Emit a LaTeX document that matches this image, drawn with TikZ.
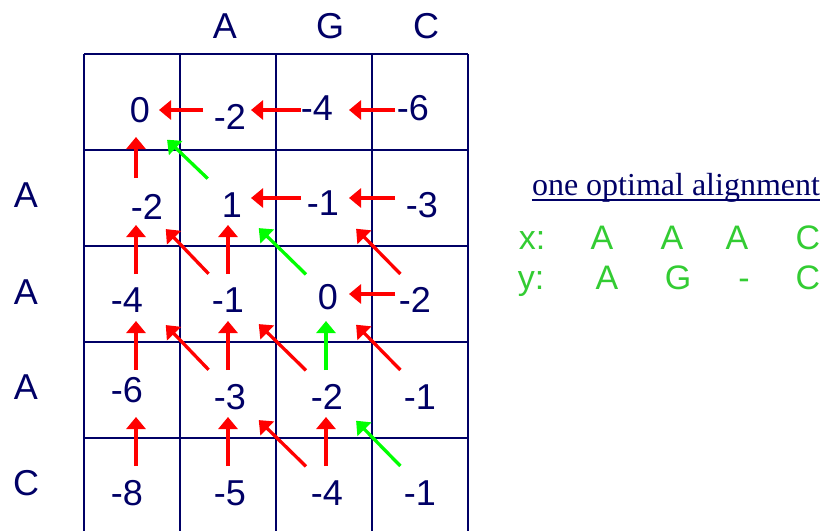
\documentclass[tikz,border=0pt]{standalone}
\usepackage{fontspec}
\setmainfont{Liberation Serif}
\setsansfont{Liberation Sans}
\usetikzlibrary{arrows.meta}
\definecolor{gridNavy}{HTML}{000066}
\definecolor{traceRed}{HTML}{FF0000}
\definecolor{traceGreen}{HTML}{00FF00}
\definecolor{alignGreen}{HTML}{33CC33}

\begin{document}
\begin{tikzpicture}[x=1pt, y=-1pt,
    lbl/.style={font=\sffamily\fontsize{36}{40}\selectfont, text=gridNavy, inner sep=0pt},
    score/.style={font=\sffamily\fontsize{36}{40}\selectfont, text=gridNavy, inner sep=0pt},
    aln/.style={font=\sffamily\fontsize{34}{38}\selectfont, text=alignGreen, inner sep=0pt, anchor=base},
    tarr/.style={line width=3.3pt, -{Triangle[length=12pt,width=19pt]}},
    hor/.style={tarr, shorten <=25pt, shorten >=23pt},
    ver/.style={tarr, shorten <=20pt, shorten >=27pt},
    dia/.style={tarr, shorten <=28pt, shorten >=43pt}
  ]
  \useasboundingbox (0,0) rectangle (828,531);

  \foreach \gx in {84,180,276,372,468}
    \draw[gridNavy, line width=1.2pt] (\gx,54) -- (\gx,531);
  \foreach \gy in {54,150,246,342,438}
    \draw[gridNavy, line width=1.2pt] (84,\gy) -- (468,\gy);

  \foreach \px [count=\j from 0] in {136,228,326,420}
    \foreach \py [count=\i from 0] in {110,198,294,390,486}
      \coordinate (p\i\j) at (\px,\py);

  \node[lbl] (topA) at (225,26) {A};
  \node[lbl] (topG) at (330,26) {G};
  \node[lbl] (topC) at (426,26) {C};
  \node[lbl] (sideA1) at (26,195) {A};
  \node[lbl] (sideA2) at (26,292) {A};
  \node[lbl] (sideA3) at (26,387) {A};
  \node[lbl] (sideC) at (26,483) {C};

  \node[score] (n00) at (140,110) {0};
  \node[score] (n01) at (230,117) {-2};
  \node[score] (n02) at (317,108) {-4};
  \node[score] (n03) at (413,108) {-6};
  \node[score] (n10) at (147,207) {-2};
  \node[score] (n11) at (232,205) {1};
  \node[score] (n12) at (323,203) {-1};
  \node[score] (n13) at (422,205) {-3};
  \node[score] (n20) at (127,300) {-4};
  \node[score] (n21) at (228,300) {-1};
  \node[score] (n22) at (328,297) {0};
  \node[score] (n23) at (415,300) {-2};
  \node[score] (n30) at (127,390) {-6};
  \node[score] (n31) at (230,397) {-3};
  \node[score] (n32) at (327,397) {-2};
  \node[score] (n33) at (420,397) {-1};
  \node[score] (n40) at (127,493) {-8};
  \node[score] (n41) at (230,493) {-5};
  \node[score] (n42) at (327,493) {-4};
  \node[score] (n43) at (420,493) {-1};

  \draw[hor, traceRed] (p01) -- (p00);
  \draw[hor, traceRed] (p02) -- (p01);
  \draw[hor, traceRed] (p03) -- (p02);
  \draw[hor, traceRed] (p12) -- (p11);
  \draw[hor, traceRed] (p13) -- (p12);
  \draw[hor, traceRed] (p23) -- (p22);

  \draw[ver, traceRed] (p10) -- (p00);
  \draw[ver, traceRed] (p20) -- (p10);
  \draw[ver, traceRed] (p30) -- (p20);
  \draw[ver, traceRed] (p40) -- (p30);
  \draw[ver, traceRed] (p21) -- (p11);
  \draw[ver, traceRed] (p31) -- (p21);
  \draw[ver, traceRed] (p41) -- (p31);
  \draw[ver, traceGreen] (p32) -- (p22);
  \draw[ver, traceRed] (p42) -- (p32);

  \draw[dia, traceGreen] (p11) -- (p00);
  \draw[dia, traceRed] (p21) -- (p10);
  \draw[dia, traceGreen] (p22) -- (p11);
  \draw[dia, traceRed] (p23) -- (p12);
  \draw[dia, traceRed] (p31) -- (p20);
  \draw[dia, traceRed] (p32) -- (p21);
  \draw[dia, traceRed] (p33) -- (p22);
  \draw[dia, traceRed] (p42) -- (p31);
  \draw[dia, traceGreen] (p43) -- (p32);

  \node[font=\rmfamily\fontsize{32}{36}\selectfont, text=gridNavy, inner sep=0pt, anchor=base] (title) at (676,195) {one optimal alignment};
  \draw[gridNavy, line width=1.5pt] ([yshift=-5pt]title.base west) -- ([yshift=-5pt]title.base east);

  \node[aln] (xlab) at (532,249) {x:};
  \node[aln] (x1) at (602,249) {A};
  \node[aln] (x2) at (672,249) {A};
  \node[aln] (x3) at (737,249) {A};
  \node[aln] (x4) at (808,249) {C};
  \node[aln] (ylab) at (531,289) {y:};
  \node[aln] (y1) at (607,289) {A};
  \node[aln] (y2) at (678,289) {G};
  \node[aln] (y3) at (744,289) {-};
  \node[aln] (y4) at (808,289) {C};
\end{tikzpicture}
\end{document}
